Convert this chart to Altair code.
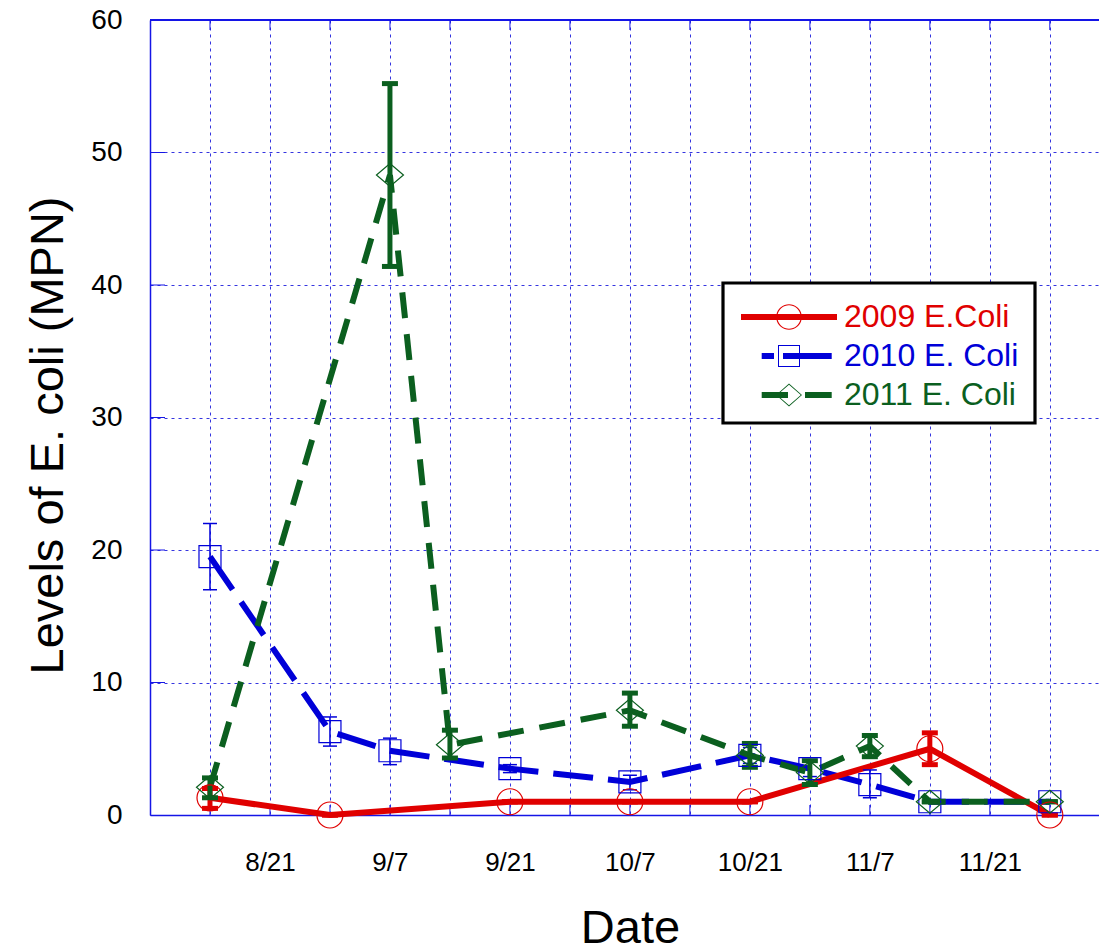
import json
import math
import altair as alt
import pandas as pd

# ---------------- data ----------------
x_label_pos = [2, 4, 6, 8, 10, 12, 14]
x_labels = ["8/21", "9/7", "9/21", "10/7", "10/21", "11/7", "11/21"]
grid_x = list(range(1, 16))
y_ticks = [0, 10, 20, 30, 40, 50, 60]

names = ["2009 E.Coli", "2010 E. Coli", "2011 E. Coli"]
colors = ["#e00000", "#0000d8", "#0b5f1f"]

x_2009 = [1, 3, 6, 8, 10, 13, 15]
y_2009 = [1.3, 0.0, 1.0, 1.0, 1.0, 5.0, 0.0]
lo_2009 = [0.5, 0.0, 1.0, 1.0, 1.0, 3.8, 0.0]
hi_2009 = [2.0, 0.0, 1.0, 1.0, 1.0, 6.2, 0.0]

x_2010 = [1, 3, 4, 6, 8, 10, 11, 12, 13, 15]
y_2010 = [19.5, 6.3, 4.85, 3.5, 2.5, 4.5, 3.5, 2.3, 1.0, 1.0]
lo_2010 = [17.0, 5.2, 3.8, 3.2, 1.9, 3.9, 2.9, 1.3, 1.0, 1.0]
hi_2010 = [22.0, 7.4, 5.8, 3.8, 3.0, 5.1, 4.1, 3.4, 1.0, 1.0]

x_2011 = [1, 4, 5, 8, 10, 11, 12, 13, 15]
y_2011 = [2.1, 48.3, 5.3, 7.9, 4.5, 3.2, 5.2, 1.0, 1.0]
lo_2011 = [1.3, 41.4, 4.3, 6.7, 3.6, 2.3, 4.4, 1.0, 1.0]
hi_2011 = [2.8, 55.2, 6.4, 9.2, 5.4, 4.1, 6.0, 1.0, 1.0]

# ---------------- style ----------------
FONT = "Liberation Sans"
GRID_BLUE = "#3535e0"
AXIS_BLUE = "#1515e6"
W, H = 949, 795

label_arr = [""] * 16
for p, l in zip(x_label_pos, x_labels):
    label_arr[p] = l

x_scale = alt.Scale(domain=[0, 15.82], nice=False, zero=False)
y_scale = alt.Scale(domain=[0, 60], nice=False)

x_axis = alt.Axis(
    values=grid_x, labelExpr=json.dumps(label_arr) + "[datum.value]",
    grid=True, gridColor=GRID_BLUE, gridDash=[3, 4], gridWidth=1,
    ticks=False, tickSize=0, domainColor=AXIS_BLUE, domainWidth=1.5,
    labelFont=FONT, labelFontSize=26, labelColor="black", labelPadding=47,
    labelBaseline="middle", labelAlign="center",
    title="Date", titleFont=FONT, titleFontSize=47, titleFontWeight="normal",
    titleColor="black", titleX=480, titleY=127, titleBaseline="alphabetic",
    titleAlign="center",
)
y_axis = alt.Axis(
    values=y_ticks, grid=True, gridColor=GRID_BLUE, gridDash=[3, 4], gridWidth=1,
    ticks=False, tickSize=0, domainColor=AXIS_BLUE, domainWidth=1.5,
    labelFont=FONT, labelFontSize=28, labelColor="black", labelPadding=28,
    labelBaseline="middle", labelAlign="right",
    title="Levels of E. coli (MPN)", titleFont=FONT, titleFontSize=47,
    titleFontWeight="normal", titleColor="black", titleX=-88, titleY=415,
    titleAngle=270, titleBaseline="alphabetic", titleAlign="center",
)

X = alt.X("x:Q", scale=x_scale, axis=x_axis, title="Date")
Y = alt.Y("y:Q", scale=y_scale, axis=y_axis, title="Levels of E. coli (MPN)")


def frame(xs, ys, los, his):
    return pd.DataFrame({"x": xs, "y": ys, "lo": los, "hi": his})


d09 = frame(x_2009, y_2009, lo_2009, hi_2009)
d10 = frame(x_2010, y_2010, lo_2010, hi_2010)
d11 = frame(x_2011, y_2011, lo_2011, hi_2011)


def line(df, color, dash):
    kw = dict(color=color, strokeWidth=6, strokeCap="butt")
    if dash:
        kw["strokeDash"] = dash
    return alt.Chart(df).mark_line(**kw).encode(x=X, y=Y)


def errbar(df, color, width, cap, capthick):
    base = alt.Chart(df)
    r = base.mark_rule(color=color, strokeWidth=width).encode(
        x=X, y=alt.Y("lo:Q", scale=y_scale, axis=y_axis), y2="hi:Q")
    t1 = base.mark_tick(color=color, size=cap, thickness=capthick, orient="horizontal", opacity=1).encode(
        x=X, y=alt.Y("lo:Q", scale=y_scale, axis=y_axis))
    t2 = base.mark_tick(color=color, size=cap, thickness=capthick, orient="horizontal", opacity=1).encode(
        x=X, y=alt.Y("hi:Q", scale=y_scale, axis=y_axis))
    return r + t1 + t2


def points(df, color, shape, size, sw=1):
    return alt.Chart(df).mark_point(shape=shape, size=size, color=color, filled=False,
                                    strokeWidth=sw, opacity=1).encode(x=X, y=Y)


# ---------------- decorations (inward ticks / top border / legend frame) ----------------
gx = pd.DataFrame({"x": grid_x})
gy = pd.DataFrame({"y": y_ticks[1:-1]})
bottom_ticks = alt.Chart(gx).mark_rule(color=AXIS_BLUE, strokeWidth=1).encode(
    x=X, y=alt.value(H), y2=alt.value(H - 10))
top_ticks = alt.Chart(gx).mark_rule(color=AXIS_BLUE, strokeWidth=1).encode(
    x=X, y=alt.value(0), y2=alt.value(10))
left_ticks = alt.Chart(gy).mark_rule(color=AXIS_BLUE, strokeWidth=1).encode(
    y=Y, x=alt.value(0), x2=alt.value(15))
top_border = alt.Chart(gx).mark_rule(color=AXIS_BLUE, strokeWidth=1.5).encode(
    x=alt.value(0), x2=alt.value(W), y=alt.value(0))

LEG_X, LEG_Y, LEG_W, LEG_H = 573, 263, 312, 140
legend_frame = alt.Chart(pd.DataFrame({"k": [0]})).mark_rect(
    fill="white", stroke="black", strokeWidth=3.2).encode(
    x=alt.value(LEG_X), x2=alt.value(LEG_X + LEG_W),
    y=alt.value(LEG_Y), y2=alt.value(LEG_Y + LEG_H))


# ---------------- legend symbols (line + open marker, fill-only paths) ----------------
def f(v):
    return ("%.3f" % v).rstrip("0").rstrip(".")


def rect(x0, x1, t=0.3):
    return f"M{f(x0)},{f(-t)}H{f(x1)}V{f(t)}H{f(x0)}Z"


def poly(pts):
    return "M" + "L".join(f"{f(a)},{f(b)}" for a, b in pts) + "Z"


def ring_circle(r, w=0.11, n=36):
    outer = [(r * math.cos(2 * math.pi * i / n), r * math.sin(2 * math.pi * i / n)) for i in range(n)]
    ri = r - w
    inner = [(ri * math.cos(-2 * math.pi * i / n), ri * math.sin(-2 * math.pi * i / n)) for i in range(n)]
    return poly(outer) + poly(inner)


def ring_square(h, w=0.1):
    hi = h - w
    return poly([(-h, -h), (h, -h), (h, h), (-h, h)]) + poly([(-hi, -hi), (-hi, hi), (hi, hi), (hi, -hi)])


def ring_diamond(dx, dy, w=0.12):
    return poly([(0, -dy), (dx, 0), (0, dy), (-dx, 0)]) + poly(
        [(0, -(dy - w)), (-(dx - w), 0), (0, dy - w), (dx - w, 0)])


sym_2009 = rect(-4.8, 4.8) + ring_circle(1.28)
sym_2010 = rect(-2.73, -1.5) + rect(-0.6, 4.27) + ring_square(1.1)
sym_2011 = rect(-2.73, -0.1) + rect(1.6, 4.27) + ring_diamond(1.3, 1.15)

label_color_expr = (
    f"datum.value == '{names[0]}' ? '{colors[0]}' : "
    f"datum.value == '{names[1]}' ? '{colors[1]}' : '{colors[2]}'"
)
leg = alt.Legend(
    title=None, orient="none", legendX=572, legendY=262,
    symbolSize=400, symbolStrokeWidth=0, symbolOffset=32, labelOffset=39,
    labelFont=FONT, labelFontSize=32, labelColor=alt.ExprRef(expr=label_color_expr),
    labelLimit=400, padding=19, rowPadding=7, symbolOpacity=1,
)
legend_df = pd.DataFrame({"series": names, "x": [0, 0, 0], "y": [0, 0, 0]})
legend_layer = alt.Chart(legend_df).transform_filter("false").mark_point(
    filled=True, opacity=1).encode(
    x=X, y=Y,
    color=alt.Color("series:N", scale=alt.Scale(domain=names, range=colors), legend=leg),
    shape=alt.Shape("series:N", scale=alt.Scale(domain=names, range=[sym_2009, sym_2010, sym_2011]),
                    legend=leg),
)

diamond_path = "M0,-0.85L1,0L0,0.85L-1,0Z"

chart = alt.layer(
    top_border, bottom_ticks, top_ticks, left_ticks,
    line(d10, colors[1], [40, 15]),
    line(d09, colors[0], None),
    line(d11, colors[2], [26, 16]),
    errbar(d10, colors[1], 1.5, 14, 1.5),
    errbar(d09, colors[0], 5, 16, 5),
    errbar(d11, colors[2], 5, 16, 5),
    points(d09, colors[0], "circle", 676, 1.2),
    points(d10, colors[1], "square", 484, 1.2),
    points(d11, colors[2], diamond_path, 729, 1.2),
    legend_frame,
    legend_layer,
).properties(
    width=W, height=H,
    autosize=alt.AutoSizeParams(type="none"),
    padding={"left": 150, "top": 20, "right": 0, "bottom": 136},
).configure_view(stroke=None).configure(background="white")

chart.save("out.html", embed_options={"renderer": "svg", "actions": False})
